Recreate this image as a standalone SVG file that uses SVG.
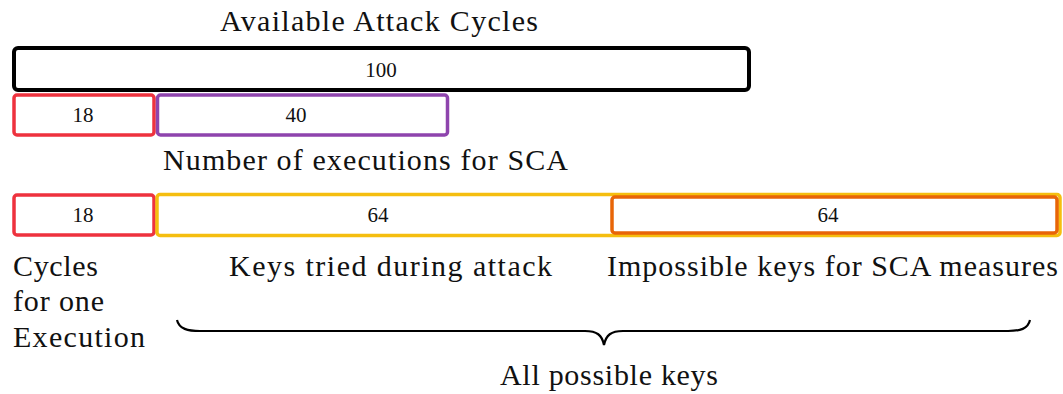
<svg xmlns="http://www.w3.org/2000/svg" width="1063" height="394" viewBox="0 0 1063 394">
<style>
.lbl{font-family:"Liberation Serif",serif;font-size:30px;fill:#111}
.num{font-family:"Liberation Serif",serif;font-size:21px;text-anchor:middle;fill:#111}
.box{fill:#fff;stroke-linejoin:round}
.blk{stroke:#000;stroke-width:4}
.red{stroke:#ee323e;stroke-width:3.5}
.pur{stroke:#8e44ad;stroke-width:3.5}
.yel{stroke:#f5be0f;stroke-width:3.5}
.org{stroke:#e86507;stroke-width:3.5}
</style>
<rect width="1063" height="394" fill="#fff"/>
<g id="title"><text class="lbl" x="220" y="31" textLength="318" lengthAdjust="spacing">Available Attack Cycles</text></g>
<g id="n-total"><rect class="box blk" x="14" y="48" width="735" height="42" rx="4"/><text class="num" x="381" y="77">100</text></g>
<g id="n-exec1"><rect class="box red" x="14" y="95" width="140" height="40" rx="3"/><text class="num" x="83" y="122">18</text></g>
<g id="n-sca"><rect class="box pur" x="157.5" y="95" width="290" height="40" rx="3"/><text class="num" x="296" y="122">40</text></g>
<g id="lbl-sca"><text class="lbl" x="163" y="170" textLength="405" lengthAdjust="spacing">Number of executions for SCA</text></g>
<g id="n-exec2"><rect class="box red" x="14" y="195" width="140" height="40" rx="3"/><text class="num" x="83" y="222">18</text></g>
<g id="n-keys"><rect class="box yel" x="157" y="194.5" width="903" height="41" rx="3"/><text class="num" x="378" y="222">64</text></g>
<g id="n-imp"><rect class="box org" x="612" y="197" width="445" height="36" rx="3"/><text class="num" x="828" y="222">64</text></g>
<g id="lbl-cycles">
<text class="lbl" x="13" y="276" textLength="85" lengthAdjust="spacing">Cycles</text>
<text class="lbl" x="13" y="311" textLength="91" lengthAdjust="spacing">for one</text>
<text class="lbl" x="13" y="347" textLength="132" lengthAdjust="spacing">Execution</text>
</g>
<g id="lbl-tried"><text class="lbl" x="229" y="276" textLength="323" lengthAdjust="spacing">Keys tried during attack</text></g>
<g id="lbl-imp"><text class="lbl" x="607" y="276" textLength="451" lengthAdjust="spacing">Impossible keys for SCA measures</text></g>
<g id="connectors">
<path d="M177,320 C179,329 188,331 200,331 L585,331 C597,331 602,335 604,345 C606,335 611,331 623,331 L1008,331 C1020,331 1028,329 1030,320" fill="none" stroke="#000" stroke-width="2.2"/>
</g>
<g id="lbl-all"><text class="lbl" x="500" y="385" textLength="218" lengthAdjust="spacing">All possible keys</text></g>
</svg>
